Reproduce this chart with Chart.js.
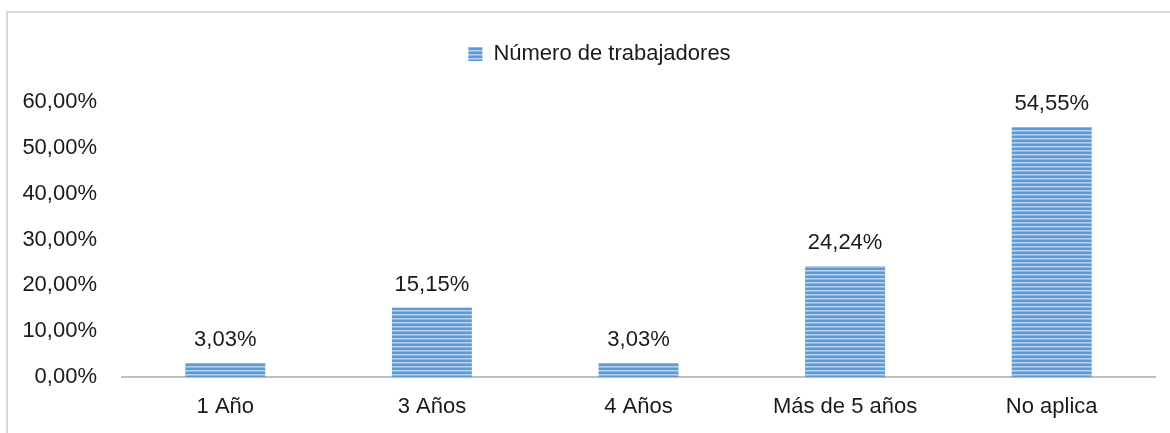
<!DOCTYPE html>
<html>
<head>
<meta charset="utf-8">
<script src="https://cdn.jsdelivr.net/npm/chart.js@4"></script>
<style>
html,body{margin:0;padding:0;background:#fff;}
#wrap{width:1170px;height:433px;position:relative;}
</style>
</head>
<body>
<div id="wrap"><canvas id="c" width="1170" height="433"></canvas></div>
<script>
const categories = ["1 Año", "3 Años", "4 Años", "Más de 5 años", "No aplica"];
const seriesName = "Número de trabajadores";
const values = [3.03, 15.15, 3.03, 24.24, 54.55];
const yTicks = [0, 10, 20, 30, 40, 50, 60];

function fmt(v){ return v.toFixed(2).replace('.', ',') + '%'; }

// striped pattern
const pc = document.createElement('canvas');
pc.width = 8; pc.height = 4;
const pctx = pc.getContext('2d');
pctx.fillStyle = '#5B9BD5'; pctx.fillRect(0,0,8,4);
pctx.fillStyle = '#B7D1EE'; pctx.fillRect(0,2,8,1);
pctx.fillStyle = '#8DB8E4'; pctx.fillRect(0,3,8,1);
const ctx0 = document.getElementById('c').getContext('2d');
const pattern = ctx0.createPattern(pc, 'repeat');

const FONT = "'Liberation Sans', Arial, sans-serif";
const FS = 22;
const TXT = '#1a1a1a';

const borderPlugin = {
  id: 'frame',
  beforeDraw(chart){
    const c = chart.ctx;
    c.save();
    c.fillStyle = '#fff';
    c.fillRect(0,0,chart.width,chart.height);
    c.strokeStyle = '#D9D9D9';
    c.lineWidth = 2;
    c.strokeRect(7, 12, 1300, 600);
    c.restore();
  }
};

const legendFix = {
  id: 'legendFix',
  afterInit(chart){
    const lg = chart.legend;
    if (!lg) return;
    const origFit = lg.fit.bind(lg);
    lg.fit = function(){ origFit(); this.height = 90; };
    const origDraw = lg.draw.bind(lg);
    lg.draw = function(){
      const l = this.left;
      this.left = l + 44;
      origDraw();
      this.left = l;
    };
  }
};

const valueLabels = {
  id: 'valueLabels',
  afterDatasetsDraw(chart){
    const c = chart.ctx;
    const meta = chart.getDatasetMeta(0);
    c.save();
    c.font = FS + "px " + FONT;
    c.fillStyle = TXT;
    c.textAlign = 'center';
    c.textBaseline = 'middle';
    meta.data.forEach((bar, i) => {
      c.fillText(fmt(values[i]), bar.x, bar.y - 23);
    });
    c.restore();
  }
};

new Chart(document.getElementById('c'), {
  type: 'bar',
  data: {
    labels: categories,
    datasets: [{
      label: seriesName,
      data: values,
      backgroundColor: pattern,
      borderWidth: 0,
      categoryPercentage: 1,
      barPercentage: 0.387
    }]
  },
  options: {
    responsive: false,
    animation: false,
    devicePixelRatio: 1,
    layout: { padding: { left: 0, right: 15, top: 12, bottom: 0 } },
    plugins: {
      legend: {
        display: true,
        position: 'top',
        labels: {
          font: { family: FONT, size: FS },
          color: TXT,
          boxWidth: 14,
          boxHeight: 14,
          padding: 31
        }
      },
      tooltip: { enabled: false }
    },
    scales: {
      x: {
        grid: { display: false, drawTicks: false },
        border: { display: true, color: '#BFBFBF', width: 2 },
        ticks: { font: { family: FONT, size: FS }, color: TXT, padding: 17, maxRotation: 0 },
        afterFit(s){ s.height = 56; }
      },
      y: {
        min: 0, max: 60,
        grid: { display: false, drawTicks: false },
        border: { display: false },
        afterBuildTicks(s){ s.ticks = yTicks.map(v => ({ value: v })); },
        ticks: {
          font: { family: FONT, size: FS }, color: TXT, padding: 25,
          callback: (v) => fmt(v)
        },
        afterFit(s){ s.width = 122; }
      }
    }
  },
  plugins: [borderPlugin, legendFix, valueLabels]
});
</script>
</body>
</html>
